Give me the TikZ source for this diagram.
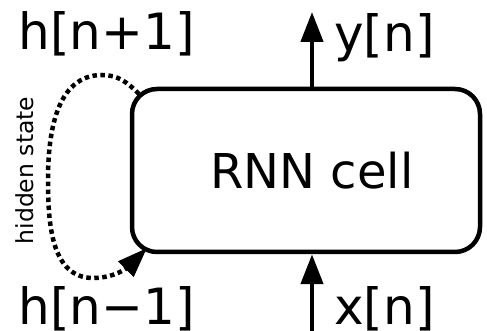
\documentclass[tikz,border=0pt]{standalone}
\usepackage{fontspec}
\setmainfont{DejaVu Sans}
\usetikzlibrary{arrows.meta}
\begin{document}
\begin{tikzpicture}[x=1pt,y=1pt,
  big/.style={font=\fontsize{50}{60}\selectfont, inner sep=0pt},
  cellbox/.style={draw, line width=4.5pt, rounded corners=25pt, minimum width=348pt, minimum height=163pt, inner sep=0pt, font=\fontsize{48}{58}\selectfont},
  flow/.style={line width=4.5pt, -{Triangle[length=30pt,width=22pt]}},
  loopline/.style={line width=4.5pt, dash pattern=on 4.5pt off 3.5pt, -{Triangle[length=30pt,width=21pt]}},
  side/.style={font=\fontsize{23.5}{28}\selectfont, inner sep=0pt, rotate=90, anchor=base}
]
\useasboundingbox (0,0) rectangle (487,331);
\node[cellbox] (cell) at (306,160.5) {\hspace*{12pt}RNN cell};
\coordinate (ytop) at (312,319);
\coordinate (xbot) at (312,0);
\draw[flow] (cell.north -| ytop) -- (ytop);
\draw[flow] (xbot) -- (cell.south -| xbot);
\node[big, anchor=base west] (yl) at (334,279) {y[n]};
\node[big, anchor=base west] (xl) at (334,6) {x[n]};
\node[big, anchor=base west] (hn1) at (18.5,281) {h[n+1]};
\node[big, anchor=base west] (hm1) at (18.5,6) {h[n−1]};
\node[side] (hs) at (33.5,160.5) {hidden state};
\coordinate (ls) at (139,237);
\coordinate (lt) at (147,83);
\draw[loopline] (ls) to[out=135,in=0] (102,256) to[out=180,in=90] (48,151) to[out=-90,in=180] (93,53) to[out=0,in=225] (lt);
\end{tikzpicture}
\end{document}
